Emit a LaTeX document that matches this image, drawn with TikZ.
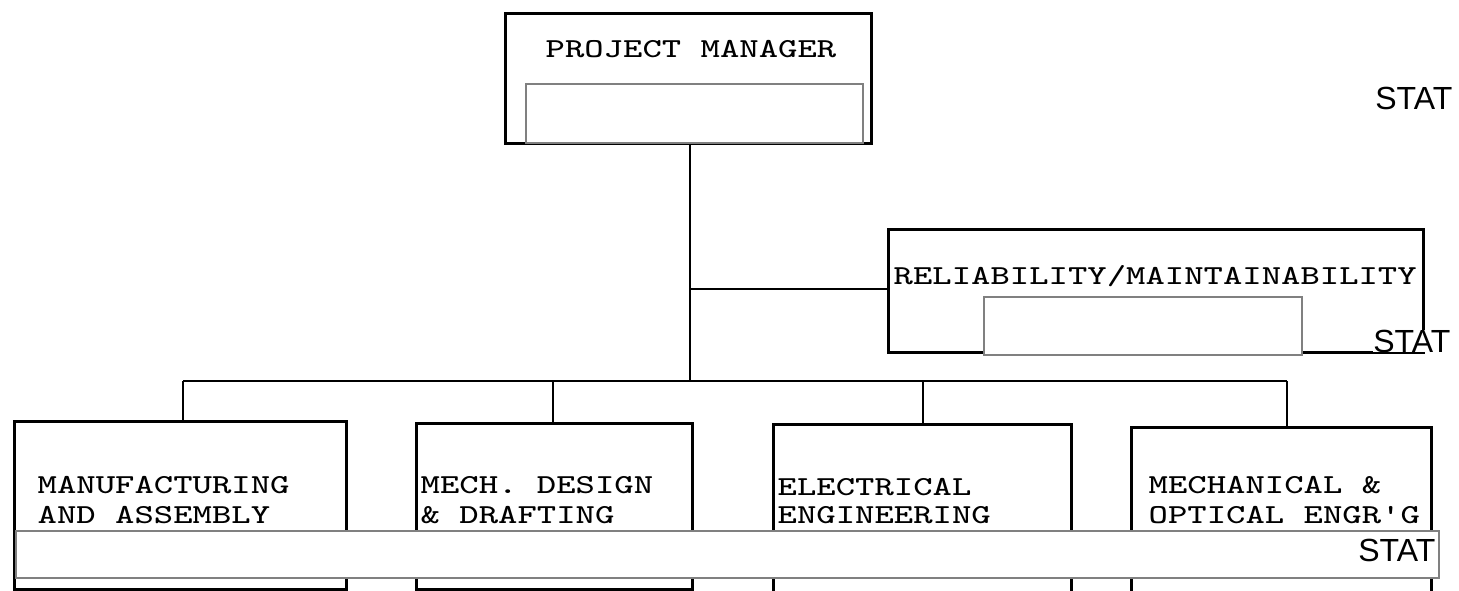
\documentclass[tikz,border=0pt]{standalone}
\usepackage{fontspec}
\setsansfont{Liberation Sans}
\usepackage{graphicx}
\newcommand{\twx}[1]{\scalebox{1.33}[1]{#1}}
\definecolor{redactgray}{RGB}{128,128,128}
\tikzset{
  orgbox/.style={draw=black, line width=0.75pt, inner sep=0pt, anchor=north west},
  conn/.style={draw=black, line width=0.75pt},
  lbl/.style={font=\ttfamily\fontsize{7.8}{9}\selectfont, inner sep=0pt, anchor=base west},
  redact/.style={draw=redactgray, fill=white, line width=0.5pt, inner sep=0pt, anchor=north west},
  stat/.style={font=\sffamily\fontsize{9.1}{11}\selectfont, inner sep=0pt, anchor=east},
}
\begin{document}
\begin{tikzpicture}[x=0.01cm,y=-0.01cm]
\useasboundingbox (0,0) rectangle (1459,590);
\clip (0,0) rectangle (1459,590);
% boxes
\node[orgbox, minimum width=3.66cm, minimum height=1.30cm] (pm) at (504,12) {};
\node[orgbox, minimum width=5.35cm, minimum height=1.23cm] (rm) at (887,228) {};
\node[orgbox, minimum width=3.32cm, minimum height=1.68cm] (b1) at (13,420) {};
\node[orgbox, minimum width=2.76cm, minimum height=1.66cm] (b2) at (415,422) {};
\node[orgbox, minimum width=2.98cm, minimum height=1.80cm] (b3) at (772,423) {};
\node[orgbox, minimum width=3.00cm, minimum height=1.78cm] (b4) at (1130,426) {};
% connectors
\coordinate (jrm) at (690,289);
\coordinate (jbus) at (690,381);
\coordinate (d1) at (183,381);
\coordinate (d2) at (553,381);
\coordinate (d3) at (923,381);
\coordinate (d4) at (1287,381);
\draw[conn] (pm.south -| jbus) -- (jbus);
\draw[conn] (jrm) -- (jrm -| rm.west);
\draw[conn] (d1) -- (d4);
\draw[conn] (d1) -- (d1 |- b1.north);
\draw[conn] (d2) -- (d2 |- b2.north);
\draw[conn] (d3) -- (d3 |- b3.north);
\draw[conn] (d4) -- (d4 |- b4.north);
% labels
\node[lbl] (tpm) at (545,57) {\twx{PROJECT MANAGER}};
\node[lbl] (trm) at (893,284) {\twx{RELIABILITY/MAINTAINABILITY}};
\node[lbl] (t1a) at (37,493) {\twx{MANUFACTURING}};
\node[lbl] (t1b) at (37,523) {\twx{AND ASSEMBLY}};
\node[lbl] (t2a) at (420,493) {\twx{MECH. DESIGN}};
\node[lbl] (t2b) at (420,523) {\twx{\& DRAFTING}};
\node[lbl] (t3a) at (777,495) {\twx{ELECTRICAL}};
\node[lbl] (t3b) at (777,523) {\twx{ENGINEERING}};
\node[lbl] (t4a) at (1148,493) {\twx{MECHANICAL \&}};
\node[lbl] (t4b) at (1148,523) {\twx{OPTICAL ENGR'G}};
% redactions
\node[redact, minimum width=3.37cm, minimum height=0.59cm] (r1) at (525,83) {};
\node[redact, minimum width=3.18cm, minimum height=0.58cm] (r2) at (983,296) {};
\node[redact, minimum width=14.22cm, minimum height=0.47cm] (r3) at (15,530) {};
% stamps
\node[stat] (s1) at (1453,98) {STAT};
\node[stat, fill=white] (s2) at (1451,341) {STAT};
\node[stat] (s3) at (1436,550) {STAT};
\end{tikzpicture}
\end{document}
